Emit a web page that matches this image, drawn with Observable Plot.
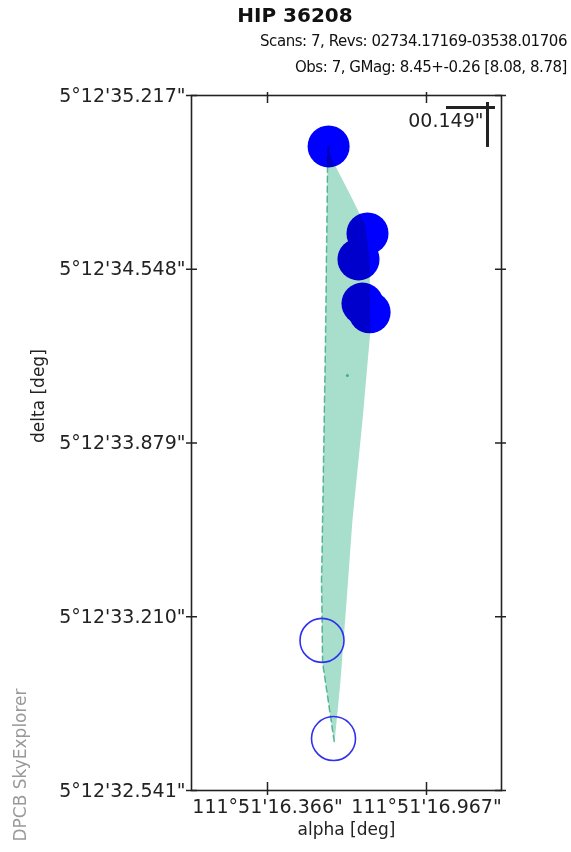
<!DOCTYPE html>
<html><head><meta charset="utf-8">
<script src="https://cdn.jsdelivr.net/npm/d3@7"></script>
<script src="https://cdn.jsdelivr.net/npm/@observablehq/plot@0.6"></script>
<style>
body{margin:0;background:#fff;}
#wrap{position:relative;width:571px;height:852px;overflow:hidden;font-family:"DejaVu Sans",sans-serif;color:#111;}
.t{position:absolute;white-space:nowrap;line-height:1;}
</style></head><body>
<div id="wrap">
<div id="chart" style="position:absolute;left:0;top:0"></div>
<div class="t" style="left:0;width:590px;top:5px;text-align:center;font-weight:bold;font-size:20px">HIP 36208</div>
<div class="t" style="right:4px;top:34px;text-align:right;font-size:15px;letter-spacing:-0.45px">Scans: 7, Revs: 02734.17169-03538.01706</div>
<div class="t" style="right:4px;top:60px;text-align:right;font-size:15px;letter-spacing:-0.45px">Obs: 7, GMag: 8.45+-0.26 [8.08, 8.78]</div>
<div class="t" style="left:20px;top:765px;transform:translate(-50%,-50%) rotate(-90deg);font-size:17px;color:#999">DPCB SkyExplorer</div>
</div>
<script>
// alpha = arcsec part of 111°51'xx", delta = arcsec part of 5°12'xx"
const obsAlpha = [16.597, 16.744, 16.710, 16.725, 16.752];
const obsDelta = [35.021, 34.686, 34.586, 34.416, 34.382];
const rejAlpha = [16.572, 16.6155];
const rejDelta = [33.119, 32.741];
const meanAlpha = [16.668];
const meanDelta = [34.139];
const bandAlpha = [16.593, 16.612, 16.680, 16.736, 16.752, 16.755, 16.725, 16.687, 16.665, 16.642, 16.619, 16.574, 16.570, 16.574, 16.585, 16.593];
const bandDelta = [35.021, 34.967, 34.832, 34.716, 34.582, 34.312, 33.966, 33.581, 33.273, 32.965, 32.722, 33.034, 33.350, 33.581, 34.274, 34.967];
const edgeAlpha = [16.597, 16.593, 16.585, 16.574, 16.570, 16.574, 16.619];
const edgeDelta = [35.021, 34.967, 34.274, 33.581, 33.350, 33.034, 32.722];
const xTicks = [16.366, 16.967];
const yTicks = [35.217, 34.548, 33.879, 33.210, 32.541];
const xDomain = [16.0787, 17.2505];
const yDomain = [32.541, 35.217];
const barH = {a1: 17.0426, a2: 17.2278, d: 35.171};
const barV = {a: 17.1976, d1: 35.190, d2: 35.017};
const barLabel = {a: 17.1825, d: 35.121, text: '00.149"'};

const obs = obsAlpha.map((a, i) => ({a, d: obsDelta[i]}));
const rej = rejAlpha.map((a, i) => ({a, d: rejDelta[i]}));
const mean = meanAlpha.map((a, i) => ({a, d: meanDelta[i]}));
const band = bandAlpha.map((a, i) => ({a, d: bandDelta[i]}));
const edge = edgeAlpha.map((a, i) => ({a, d: edgeDelta[i]}));

const W = 571, H = 852, mL = 191, mR = 70, mT = 95, mB = 62;
const fw = W - mL - mR, fh = H - mT - mB;
const ink = "#222";

const chart = Plot.plot({
  width: W, height: H,
  marginLeft: mL, marginRight: mR, marginTop: mT, marginBottom: mB,
  style: {fontFamily: "DejaVu Sans", fontSize: "19px", color: ink, background: "white"},
  x: {domain: xDomain},
  y: {domain: yDomain},
  marks: [
    Plot.dot(obs, {x: "a", y: "d", r: 21, fill: "#0000ff", stroke: "none"}),
    Plot.line(band, {x: "a", y: "d", fill: "#a8decc", stroke: "none", curve: "linear-closed", mixBlendMode: "multiply"}),
    Plot.line(edge, {x: "a", y: "d", stroke: "#6cc4a4", strokeWidth: 1.5, strokeDasharray: "6,4", mixBlendMode: "multiply"}),
    Plot.dot(rej, {x: "a", y: "d", r: 22, fill: "none", stroke: "#3030f0", strokeWidth: 1.6}),
    Plot.dot(mean, {x: "a", y: "d", r: 1.5, fill: "#3fae88", stroke: "none"}),
    Plot.frame({stroke: ink, strokeWidth: 1.6}),
    Plot.tickX(xTicks, {x: d => d, insetTop: fh - 8, insetBottom: -5, stroke: ink, strokeWidth: 1.5}),
    Plot.tickX(xTicks, {x: d => d, insetBottom: fh - 8, insetTop: -3, stroke: ink, strokeWidth: 1.5}),
    Plot.tickY(yTicks, {y: d => d, insetRight: fw - 6, insetLeft: -5, stroke: ink, strokeWidth: 1.5}),
    Plot.tickY(yTicks, {y: d => d, insetLeft: fw - 6, insetRight: -5, stroke: ink, strokeWidth: 1.5}),
    Plot.axisX({ticks: xTicks, tickFormat: d => `111°51'${d.toFixed(3)}"`, tickSize: 0, tickPadding: 9, label: null}),
    Plot.axisY({ticks: yTicks, tickFormat: d => `5°12'${d.toFixed(3)}"`, tickSize: 0, tickPadding: 6, label: null}),
    Plot.text(["alpha [deg]"], {frameAnchor: "bottom", dy: 44, fontSize: 17, fill: ink}),
    Plot.text(["delta [deg]"], {frameAnchor: "left", dx: -153, rotate: -90, fontSize: 17, fill: ink}),
    Plot.ruleY([barH], {y: "d", x1: "a1", x2: "a2", stroke: ink, strokeWidth: 3}),
    Plot.ruleX([barV], {x: "a", y1: "d1", y2: "d2", stroke: ink, strokeWidth: 3}),
    Plot.text([barLabel], {x: "a", y: "d", text: "text", textAnchor: "end", fontSize: 19, fill: ink})
  ]
});
document.getElementById("chart").appendChild(chart);
</script>
</body></html>
